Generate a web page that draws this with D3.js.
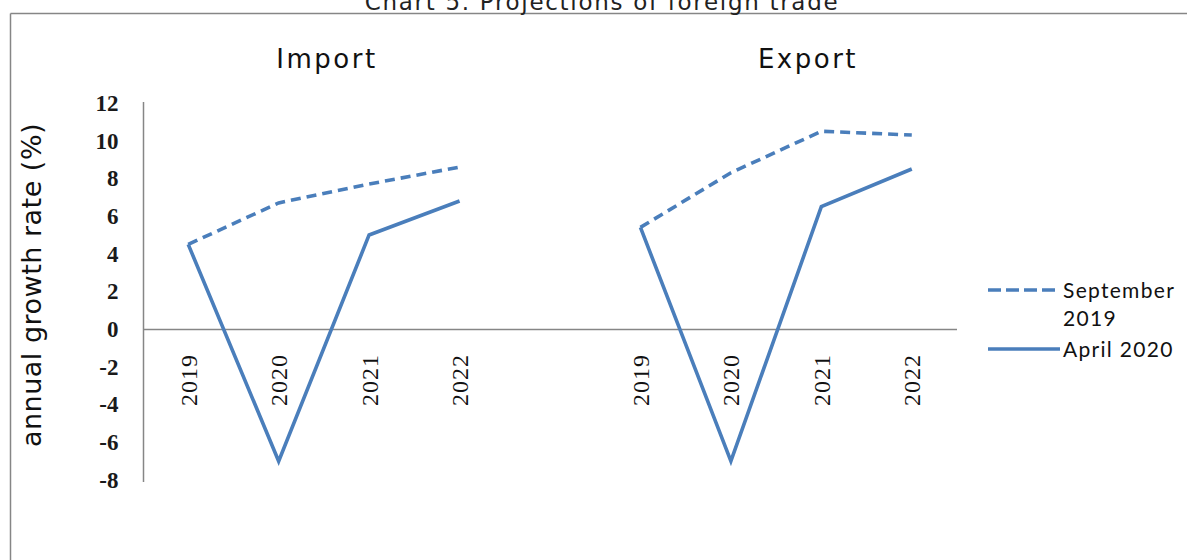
<!DOCTYPE html>
<html>
<head>
<meta charset="utf-8">
<script src="https://cdn.jsdelivr.net/npm/d3@7"></script>
<style>
  html, body { margin: 0; padding: 0; background: #fff; }
  svg { display: block; }
</style>
</head>
<body>
<svg id="chart" width="1187" height="560"></svg>
<script>
// Annual growth rate projections (%) for imports and exports
const years = ["2019", "2020", "2021", "2022"];
const panels = ["Import", "Export"];
const importSep2019 = [4.5, 6.7, 7.7, 8.6];
const importApr2020 = [4.5, -7.0, 5.0, 6.8];
const exportSep2019 = [5.4, 8.3, 10.5, 10.3];
const exportApr2020 = [5.4, -7.0, 6.5, 8.5];
const yTicks = [12, 10, 8, 6, 4, 2, 0, -2, -4, -6, -8];
const seriesNames = ["September 2019", "April 2020"];

const lineColor = "#4A7EBB";
const axisColor = "#868686";

const svg = d3.select("#chart");

// Category slots: four years per panel with one empty slot between the panels
const slots = [
  ...years.map(y => "Import-" + y),
  "gap",
  ...years.map(y => "Export-" + y)
];

const x = d3.scaleBand().domain(slots).range([143, 957]);
const y = d3.scaleLinear().domain([-8, 12]).range([480, 103]);

// Outer frame
svg.append("line")
  .attr("x1", 10.5).attr("x2", 1187).attr("y1", 13.5).attr("y2", 13.5)
  .attr("stroke", axisColor).attr("stroke-width", 1.5);
svg.append("line")
  .attr("x1", 10.5).attr("x2", 10.5).attr("y1", 13.5).attr("y2", 560)
  .attr("stroke", axisColor).attr("stroke-width", 1.5);

// Chart title
svg.append("text")
  .attr("x", 602).attr("y", 10)
  .attr("text-anchor", "middle")
  .attr("font-family", "DejaVu Sans")
  .attr("font-size", 23)
  .attr("letter-spacing", 1.7)
  .attr("fill", "#222")
  .text("Chart 5. Projections of foreign trade");

// Y axis
const yAxis = d3.axisLeft(y)
  .tickValues(yTicks)
  .tickFormat(d => String(d))
  .tickSize(0)
  .tickPadding(25);
const gy = svg.append("g").attr("transform", "translate(143.5,0)").call(yAxis);
gy.select(".domain").attr("stroke", axisColor).attr("stroke-width", 1.5)
  .attr("d", `M0,${y(12) - 1}V${y(-8) + 2}`);
gy.selectAll("text")
  .attr("font-family", "Liberation Serif")
  .attr("font-size", 23)
  .attr("font-weight", "bold")
  .attr("fill", "#1a1a1a");

// Zero line
svg.append("line")
  .attr("x1", x.range()[0]).attr("x2", x.range()[1])
  .attr("y1", Math.round(y(0)) + 0.5).attr("y2", Math.round(y(0)) + 0.5)
  .attr("stroke", axisColor).attr("stroke-width", 1.5);

// Rotated year labels under the zero line
const labelData = slots.filter(s => s !== "gap");
svg.append("g").selectAll("text")
  .data(labelData)
  .join("text")
  .attr("transform", d => `translate(${x(d) + x.bandwidth() / 2},354) rotate(-90)`)
  .attr("text-anchor", "end")
  .attr("dy", "0.35em")
  .attr("font-family", "Liberation Serif")
  .attr("font-size", 24)
  .attr("letter-spacing", 1)
  .attr("fill", "#111")
  .text(d => d.split("-")[1]);

// Y axis title
svg.append("text")
  .attr("transform", `translate(41,285) rotate(-90)`)
  .attr("text-anchor", "middle")
  .attr("font-family", "DejaVu Sans")
  .attr("font-size", 27)
  .attr("letter-spacing", 0.5)
  .attr("fill", "#111")
  .text("annual growth rate (%)");

// Panel titles
svg.append("g").selectAll("text")
  .data(panels)
  .join("text")
  .attr("x", (d, i) => i === 0 ? 327 : 808)
  .attr("y", 68)
  .attr("text-anchor", "middle")
  .attr("font-family", "DejaVu Sans")
  .attr("font-size", 26)
  .attr("letter-spacing", 2.5)
  .attr("fill", "#111")
  .text(d => d);

// Series lines
const line = d3.line()
  .x(d => x(d.slot) + x.bandwidth() / 2)
  .y(d => y(d.value));

const series = [
  { panel: "Import", values: importSep2019, dashed: true },
  { panel: "Import", values: importApr2020, dashed: false },
  { panel: "Export", values: exportSep2019, dashed: true },
  { panel: "Export", values: exportApr2020, dashed: false }
];

svg.append("g").selectAll("path")
  .data(series)
  .join("path")
  .attr("d", s => line(s.values.map((v, i) => ({ slot: s.panel + "-" + years[i], value: v }))))
  .attr("fill", "none")
  .attr("stroke", lineColor)
  .attr("stroke-width", 3.6)
  .attr("stroke-linejoin", "miter")
  .attr("stroke-dasharray", s => s.dashed ? "10,6" : null);

// Legend
const legend = svg.append("g");
legend.append("line")
  .attr("x1", 988).attr("x2", 1060).attr("y1", 290).attr("y2", 290)
  .attr("stroke", lineColor).attr("stroke-width", 3.6)
  .attr("stroke-dasharray", "13,5");
legend.append("line")
  .attr("x1", 988).attr("x2", 1060).attr("y1", 349).attr("y2", 349)
  .attr("stroke", lineColor).attr("stroke-width", 3.6);

const legendFont = { family: "Lato", size: 21, spacing: 1.3 };
const sepWords = seriesNames[0].split(" ");
[
  { text: sepWords[0], y: 298 },
  { text: sepWords[1], y: 326 },
  { text: seriesNames[1], y: 357 }
].forEach(d => {
  legend.append("text")
    .attr("x", 1063).attr("y", d.y)
    .attr("font-family", legendFont.family)
    .attr("font-size", legendFont.size)
    .attr("letter-spacing", legendFont.spacing)
    .attr("fill", "#111")
    .text(d.text);
});
</script>
</body>
</html>
